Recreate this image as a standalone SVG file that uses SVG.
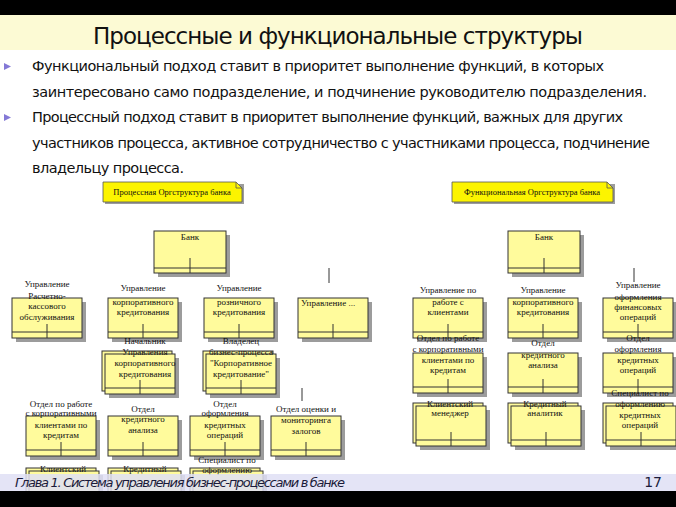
<svg xmlns="http://www.w3.org/2000/svg" xmlns:xlink="http://www.w3.org/1999/xlink" width="676" height="507" viewBox="0 0 676 507">
<style>
.title{font-family:"DejaVu Sans","Liberation Sans",sans-serif;font-size:23px;fill:#111}
.body{font-family:"DejaVu Sans","Liberation Sans",sans-serif;font-size:14.5px;fill:#111}
.lbl{font-family:"Liberation Serif",serif;font-size:9px;fill:#111;text-anchor:middle}
.hdr{font-family:"Liberation Serif",serif;font-size:8.5px;fill:#111;text-anchor:middle}
.box{fill:#fffb9c;stroke:#333;stroke-width:1}
.shd{fill:#9c9c9c}
.ln{stroke:#333;stroke-width:1;fill:none}
.foot{font-family:"DejaVu Sans","Liberation Sans",sans-serif;font-size:13px;font-style:italic;fill:#1b1b3a}
</style>
<defs>
<g id="unit">
<rect class="shd" x="4" y="4" width="70" height="40"/>
<rect class="box" x="0" y="0" width="70" height="40"/>
<line class="ln" x1="0" y1="34" x2="70" y2="34"/>
<line class="ln" x1="35" y1="26" x2="35" y2="40"/>
</g>
<g id="unit2">
<rect class="shd" x="7" y="7" width="70" height="40"/>
<rect class="box" x="0" y="0" width="70" height="40"/>
<rect class="box" x="3" y="3" width="70" height="40"/>
<line class="ln" x1="3" y1="37" x2="73" y2="37"/>
<line class="ln" x1="38" y1="29" x2="38" y2="43"/>
</g>
<g id="bank">
<rect class="shd" x="4" y="4" width="72" height="42"/>
<rect class="box" x="0" y="0" width="72" height="42"/>
<line class="ln" x1="0" y1="37" x2="72" y2="37"/>
<line class="ln" x1="36" y1="27" x2="36" y2="42"/>
</g>
<path id="tri" d="M0,0 L7,3.5 L0,7 Z" fill="#8479d6"/>
</defs>
<rect width="676" height="507" fill="#fff"/>
<rect x="0" y="0" width="676" height="15" fill="#000"/>
<rect x="0" y="15" width="676" height="35" fill="#fcfad4"/>
<text class="title" x="93" y="44" textLength="490">Процессные и функциональные структуры</text>
<use href="#tri" x="4" y="63"/>
<use href="#tri" x="4" y="114"/>
<text class="body" x="32" y="71" textLength="572">Функциональный подход ставит в приоритет выполнение функций, в которых</text>
<text class="body" x="32" y="97" textLength="615">заинтересовано само подразделение, и подчинение руководителю подразделения.</text>
<text class="body" x="32" y="122" textLength="591">Процессный подход ставит в приоритет выполнение функций, важных для других</text>
<text class="body" x="32" y="148" textLength="618">участников процесса, активное сотрудничество с участниками процесса, подчинение</text>
<text class="body" x="32" y="173" textLength="152">владельцу процесса.</text>

<g id="hdr-left">
<path d="M105,184 H244 V204 H105 Z" fill="#9c9c9c"/>
<path d="M103,182 H236 L242,188 V202 H103 Z" fill="#fcf400" stroke="#555" stroke-width="0.8"/>
<path d="M236,182 V188 H242" fill="none" stroke="#555" stroke-width="0.8"/>
<text class="hdr" x="172" y="195">Процессная Оргструктура банка</text>
</g>
<g id="hdr-right">
<path d="M454,184 H615 V204 H454 Z" fill="#9c9c9c"/>
<path d="M452,182 H607 L613,188 V202 H452 Z" fill="#fcf400" stroke="#555" stroke-width="0.8"/>
<path d="M607,182 V188 H613" fill="none" stroke="#555" stroke-width="0.8"/>
<text class="hdr" x="532" y="195">Функциональная Оргструктура банка</text>
</g>

<g id="connectors" class="ln">
<line x1="329" y1="268" x2="329" y2="283"/>
<line x1="634" y1="268" x2="634" y2="282"/>
<line x1="302" y1="388" x2="302" y2="401"/>
</g>

<g id="bank-left"><use href="#bank" x="154" y="231"/><text class="lbl" x="190" y="240">Банк</text></g>
<g id="bank-right"><use href="#bank" x="508" y="231"/><text class="lbl" x="544" y="240">Банк</text></g>

<g id="l-rko"><use href="#unit" x="12" y="298"/>
<text class="lbl" x="47" y="287">Управление</text><text class="lbl" x="47" y="299">Расчетно-</text><text class="lbl" x="47" y="309">кассового</text><text class="lbl" x="47" y="320">обслуживания</text></g>
<g id="l-corp"><use href="#unit" x="108" y="298"/>
<text class="lbl" x="143" y="291">Управление</text><text class="lbl" x="143" y="305">корпоративного</text><text class="lbl" x="143" y="315">кредитования</text></g>
<g id="l-retail"><use href="#unit" x="204" y="298"/>
<text class="lbl" x="239" y="291">Управление</text><text class="lbl" x="239" y="305">розничного</text><text class="lbl" x="239" y="315">кредитования</text></g>
<g id="l-other"><use href="#unit" x="298" y="298"/>
<text class="lbl" x="301" y="306" style="text-anchor:start">Управление ...</text></g>
<g id="l-head"><use href="#unit2" x="102" y="351"/>
<text class="lbl" x="145" y="344">Начальник</text><text class="lbl" x="145" y="355">Управления</text><text class="lbl" x="145" y="366">корпоративного</text><text class="lbl" x="145" y="377">кредитования</text></g>
<g id="l-owner"><use href="#unit2" x="203" y="351"/>
<text class="lbl" x="241" y="344">Владелец</text><text class="lbl" x="241" y="355">бизнес-процесса</text><text class="lbl" x="241" y="366">"Корпоративное</text><text class="lbl" x="241" y="377">кредитование"</text></g>
<g id="l-clients"><use href="#unit" x="26" y="416"/>
<text class="lbl" x="61" y="407">Отдел по работе</text><text class="lbl" x="61" y="416">с корпоративными</text><text class="lbl" x="61" y="428">клиентами по</text><text class="lbl" x="61" y="438">кредитам</text></g>
<g id="l-analysis"><use href="#unit" x="108" y="416"/>
<text class="lbl" x="143" y="412">Отдел</text><text class="lbl" x="143" y="422">кредитного</text><text class="lbl" x="143" y="433">анализа</text></g>
<g id="l-ops"><use href="#unit" x="190" y="416"/>
<text class="lbl" x="225" y="407">Отдел</text><text class="lbl" x="225" y="416">оформления</text><text class="lbl" x="225" y="428">кредитных</text><text class="lbl" x="225" y="438">операций</text></g>
<g id="l-pledge"><use href="#unit" x="271" y="416"/>
<text class="lbl" x="306" y="412">Отдел оценки и</text><text class="lbl" x="306" y="423">мониторинга</text><text class="lbl" x="306" y="434">залогов</text></g>
<g id="l-manager"><use href="#unit2" x="26" y="468"/>
<text class="lbl" x="63" y="472">Клиентский</text></g>
<g id="l-analyst"><use href="#unit2" x="108" y="468"/>
<text class="lbl" x="145" y="472">Кредитный</text></g>
<g id="l-spec"><use href="#unit2" x="190" y="468"/>
<text class="lbl" x="227" y="463">Специалист по</text><text class="lbl" x="227" y="473">оформлению</text></g>

<g id="r-clients-dept"><use href="#unit" x="413" y="298"/>
<text class="lbl" x="448" y="293">Управление по</text><text class="lbl" x="448" y="305">работе с</text><text class="lbl" x="448" y="315">клиентами</text></g>
<g id="r-corp"><use href="#unit" x="508" y="298"/>
<text class="lbl" x="543" y="293">Управление</text><text class="lbl" x="543" y="305">корпоративного</text><text class="lbl" x="543" y="315">кредитования</text></g>
<g id="r-fin"><use href="#unit" x="603" y="298"/>
<text class="lbl" x="638" y="288">Управление</text><text class="lbl" x="638" y="300">оформления</text><text class="lbl" x="638" y="310">финансовых</text><text class="lbl" x="638" y="320">операций</text></g>
<g id="r-clients"><use href="#unit" x="413" y="353"/>
<text class="lbl" x="448" y="341">Отдел по работе</text><text class="lbl" x="448" y="352">с корпоративными</text><text class="lbl" x="448" y="363">клиентами по</text><text class="lbl" x="448" y="373">кредитам</text></g>
<g id="r-analysis"><use href="#unit" x="508" y="353"/>
<text class="lbl" x="543" y="346">Отдел</text><text class="lbl" x="543" y="358">кредитного</text><text class="lbl" x="543" y="368">анализа</text></g>
<g id="r-ops"><use href="#unit" x="603" y="353"/>
<text class="lbl" x="638" y="341">Отдел</text><text class="lbl" x="638" y="352">оформления</text><text class="lbl" x="638" y="363">кредитных</text><text class="lbl" x="638" y="373">операций</text></g>
<g id="r-manager"><use href="#unit2" x="413" y="403"/>
<text class="lbl" x="450" y="407">Клиентский</text><text class="lbl" x="450" y="416">менеджер</text></g>
<g id="r-analyst"><use href="#unit2" x="508" y="403"/>
<text class="lbl" x="545" y="407">Кредитный</text><text class="lbl" x="545" y="416">аналитик</text></g>
<g id="r-spec"><use href="#unit2" x="603" y="403"/>
<text class="lbl" x="640" y="396">Специалист по</text><text class="lbl" x="640" y="407">оформлению</text><text class="lbl" x="640" y="418">кредитных</text><text class="lbl" x="640" y="428">операций</text></g>

<rect x="0" y="474" width="676" height="17" fill="#dfdff4" opacity="0.85"/>
<text class="foot" x="15" y="487" textLength="330">Глава 1. Система управления бизнес-процессами в банке</text>
<text class="foot" x="662" y="487" style="font-style:normal;text-anchor:end;font-size:14px">17</text>
<rect x="0" y="491" width="676" height="16" fill="#000"/>
</svg>
